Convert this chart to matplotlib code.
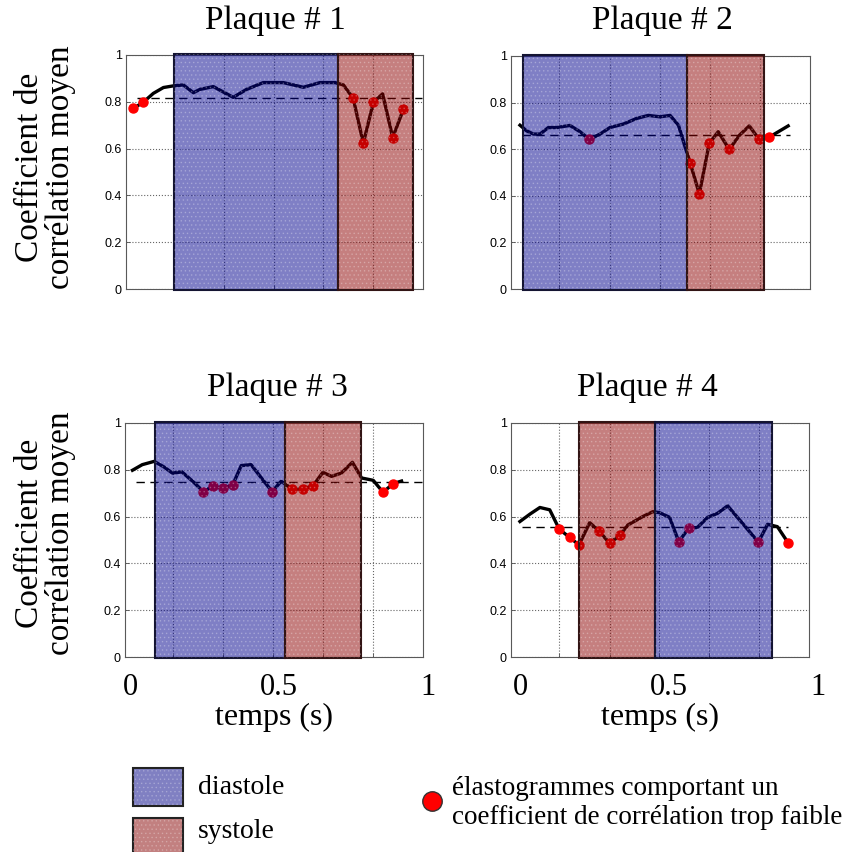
import matplotlib

matplotlib.use("Agg")
import matplotlib.pyplot as plt
from matplotlib.patches import Rectangle
from matplotlib.transforms import blended_transform_factory

plt.rcParams["font.family"] = ["Liberation Serif", "DejaVu Serif"]
plt.rcParams["hatch.linewidth"] = 0.6

# ---- data ----
titles = ["Plaque # 1", "Plaque # 2", "Plaque # 3", "Plaque # 4"]
ytick_vals = [0, 0.2, 0.4, 0.6, 0.8, 1]
ytick_labels = ["0", "0.2", "0.4", "0.6", "0.8", "1"]
xtick_vals = [0, 0.5, 1]
xtick_labels = ["0", "0.5", "1"]
grid_left = [0.145, 0.313, 0.480, 0.647, 0.815]
grid_right = [0.132, 0.301, 0.468, 0.636, 0.803]

t1 = [0.008, 0.041, 0.075, 0.109, 0.142, 0.176, 0.210, 0.232, 0.277, 0.344, 0.389, 0.445,
      0.513, 0.580, 0.636, 0.687, 0.715, 0.748, 0.782, 0.816, 0.847, 0.881, 0.917]
c1 = [0.772, 0.798, 0.836, 0.861, 0.868, 0.872, 0.839, 0.853, 0.865, 0.819, 0.853, 0.882,
      0.882, 0.862, 0.882, 0.882, 0.872, 0.815, 0.623, 0.798, 0.834, 0.647, 0.768]
low1 = [0, 1, 17, 18, 19, 21, 22]
mean1 = 0.815
mean_span1 = (0.019, 0.979)
phases1 = [("diastole", 0.145, 0.696), ("systole", 0.696, 0.950)]

t2 = [0.0, 0.022, 0.045, 0.067, 0.095, 0.123, 0.167, 0.201, 0.232, 0.268, 0.301, 0.346,
      0.390, 0.429, 0.468, 0.502, 0.530, 0.552, 0.569, 0.600, 0.633, 0.663, 0.700, 0.734,
      0.767, 0.798, 0.834, 0.897]
c2 = [0.703, 0.679, 0.665, 0.665, 0.693, 0.693, 0.702, 0.675, 0.642, 0.665, 0.693, 0.708,
      0.732, 0.745, 0.739, 0.745, 0.703, 0.611, 0.542, 0.408, 0.625, 0.675, 0.599, 0.660,
      0.700, 0.645, 0.652, 0.700]
low2 = [8, 18, 19, 20, 22, 25, 26]
mean2 = 0.659
mean_span2 = (0.006, 0.903)
phases2 = [("diastole", 0.011, 0.558), ("systole", 0.558, 0.816)]

t3 = [0.008, 0.041, 0.081, 0.114, 0.142, 0.174, 0.210, 0.246, 0.277, 0.311, 0.344, 0.373,
      0.406, 0.445, 0.477, 0.507, 0.544, 0.580, 0.614, 0.647, 0.676, 0.709, 0.746, 0.777,
      0.816, 0.849, 0.883, 0.911]
c3 = [0.798, 0.822, 0.836, 0.812, 0.786, 0.791, 0.751, 0.707, 0.729, 0.722, 0.734, 0.818,
      0.822, 0.758, 0.707, 0.751, 0.718, 0.718, 0.732, 0.789, 0.772, 0.786, 0.832, 0.765,
      0.755, 0.704, 0.741, 0.752]
low3 = [7, 8, 9, 10, 14, 16, 17, 18, 25, 26]
mean3 = 0.748
mean_span3 = (0.019, 0.979)
phases3 = [("diastole", 0.084, 0.519), ("systole", 0.519, 0.774)]

t4 = [0.0, 0.034, 0.067, 0.100, 0.132, 0.167, 0.198, 0.234, 0.265, 0.301, 0.335, 0.362,
      0.412, 0.446, 0.468, 0.502, 0.533, 0.566, 0.596, 0.630, 0.663, 0.697, 0.747, 0.800,
      0.831, 0.864, 0.901]
c4 = [0.579, 0.611, 0.639, 0.629, 0.546, 0.511, 0.479, 0.574, 0.539, 0.486, 0.520, 0.564,
      0.600, 0.621, 0.617, 0.597, 0.493, 0.550, 0.554, 0.597, 0.614, 0.646, 0.571, 0.491,
      0.567, 0.557, 0.486]
low4 = [4, 5, 6, 8, 9, 10, 16, 17, 23, 26]
mean4 = 0.554
mean_span4 = (0.006, 0.901)
phases4 = [("systole", 0.198, 0.454), ("diastole", 0.454, 0.845)]

# ---- styling ----
W, H = 850, 852
phase_face = {"diastole": (0.0, 0.0, 0.55, 0.5), "systole": (0.55, 0.0, 0.0, 0.5)}
phase_edge = {"diastole": "#141432", "systole": "#321414"}
legend_face = {"diastole": "#8080c2", "systole": "#c28080"}

# axes boxes in pixels: left, top, right, bottom
boxes = [(126, 55, 423, 289), (511, 56, 810, 289), (125, 423, 423, 657), (511, 423, 809, 657)]
x_offsets = [-0.017, -0.03, -0.017, -0.03]
grids = [grid_left, grid_right, grid_left, grid_right]
title_pos = [(275, 21), (662, 21), (277, 388), (647, 388)]

panels = [
    (t1, c1, low1, mean1, mean_span1, phases1),
    (t2, c2, low2, mean2, mean_span2, phases2),
    (t3, c3, low3, mean3, mean_span3, phases3),
    (t4, c4, low4, mean4, mean_span4, phases4),
]

fig = plt.figure(figsize=(W / 100, H / 100), dpi=100)

# overlay in pixel coordinates for titles, labels and legend
ov = fig.add_axes([0, 0, 1, 1])
ov.set_xlim(0, W)
ov.set_ylim(H, 0)
ov.axis("off")


def phase_rect(ax, x0, width, y0, height, face, edge, **kw):
    ax.add_patch(Rectangle((x0, y0), width, height, facecolor=face,
                           edgecolor=edge, lw=1.5, **kw))
    ax.add_patch(Rectangle((x0, y0), width, height, facecolor="none",
                           edgecolor=(1, 1, 1, 0.22), hatch="....", lw=0, **kw))


for i, (t, c, low, mean, span, phases) in enumerate(panels):
    l, tp, r, b = boxes[i]
    ax = fig.add_axes([l / W, 1 - b / H, (r - l) / W, (b - tp) / H])
    ax.plot(t, c, color="black", lw=2.4, solid_joinstyle="round", zorder=2)
    ax.plot(span, [mean, mean], color="black", lw=1.0, dashes=(6, 4), zorder=2)
    ax.plot([t[k] for k in low], [c[k] for k in low], "o", color="red", ms=6.5, zorder=3)
    for phase, x0, x1 in phases:
        phase_rect(ax, x0, x1 - x0, -0.005, 1.01, phase_face[phase], phase_edge[phase],
                   zorder=4, clip_on=False)

    ax.set_xlim(x_offsets[i], x_offsets[i] + 1)
    ax.set_ylim(0, 1)
    ax.set_xticks(grids[i])
    ax.set_xticklabels([])
    ax.set_yticks(ytick_vals)
    ax.set_yticklabels(ytick_labels, fontfamily="Liberation Sans", fontsize=9)
    ax.tick_params(direction="in", length=3, width=0.6, color="0.3", pad=3)
    ax.grid(True, linestyle=":", color="0.4", lw=0.8)
    for sp in ax.spines.values():
        sp.set_color("0.35")
        sp.set_linewidth(0.8)

    if i >= 2:
        tr = blended_transform_factory(ax.transData, ax.transAxes)
        for v, lab in zip(xtick_vals, xtick_labels):
            ax.text(v, -0.132, lab, transform=tr, ha="center", va="center", fontsize=22,
                    clip_on=False)
        ax.text(0.5, -0.258, "temps (s)", transform=ax.transAxes, ha="center",
                va="center", fontsize=23)

    ov.text(title_pos[i][0], title_pos[i][1], titles[i], ha="center", va="center", fontsize=24)

for yc in (167, 533):
    ov.text(45, yc, "Coefficient de\ncorrélation moyen", rotation=90, ha="center",
            va="center", fontsize=24, linespacing=1.0)

# legend
for phase, y0, ytxt in (("diastole", 768, 787), ("systole", 818, 832)):
    phase_rect(ov, 133, 50, y0, 38, legend_face[phase], "#222222")
    ov.text(198, ytxt, phase, ha="left", va="center", fontsize=20)

ov.plot([432], [801], "o", color="red", mec="#333333", mew=1.0, ms=14)
ov.text(452, 803, "élastogrammes comportant un\ncoefficient de corrélation trop faible",
        ha="left", va="center", fontsize=19.5)

fig.savefig("out.png", dpi=100)
